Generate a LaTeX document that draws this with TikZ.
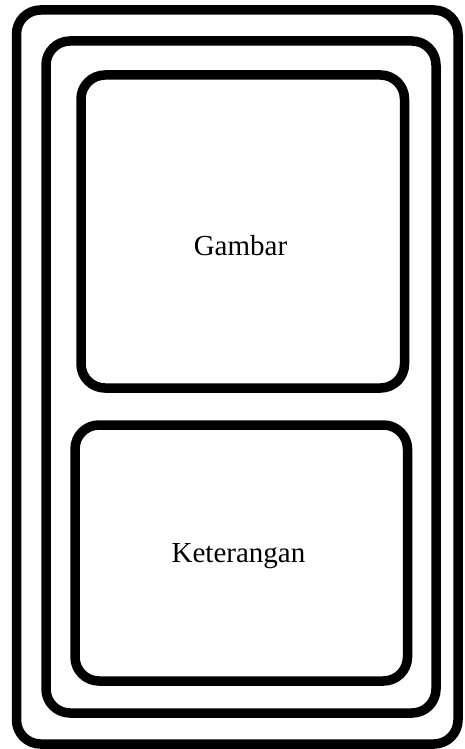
\documentclass[tikz,border=0pt]{standalone}
\usepackage{fontspec}
\setmainfont{Liberation Serif}
\tikzset{
    panel/.style={draw, line width=9.5pt, rounded corners=24pt},
    label/.style={anchor=base, font=\fontsize{29}{34}\selectfont}
}
\begin{document}
\begin{tikzpicture}[x=1pt,y=-1pt]
        \useasboundingbox (0,0) rectangle (464,749);
        %% outer frame and inner frame
        \draw[panel] (16.5,10) rectangle (458,744);
        \draw[panel] (46,41) rectangle (436,713);
        %% picture box and caption box
        \draw[panel] (81,75) rectangle (404.5,388);
        \draw[panel] (75,425) rectangle (407.5,681);
        \node[label] (gambar) at (240.5,255.7) {Gambar};
        \node[label] (keterangan) at (238.5,562.3) {Keterangan};
    \end{tikzpicture}
\end{document}
